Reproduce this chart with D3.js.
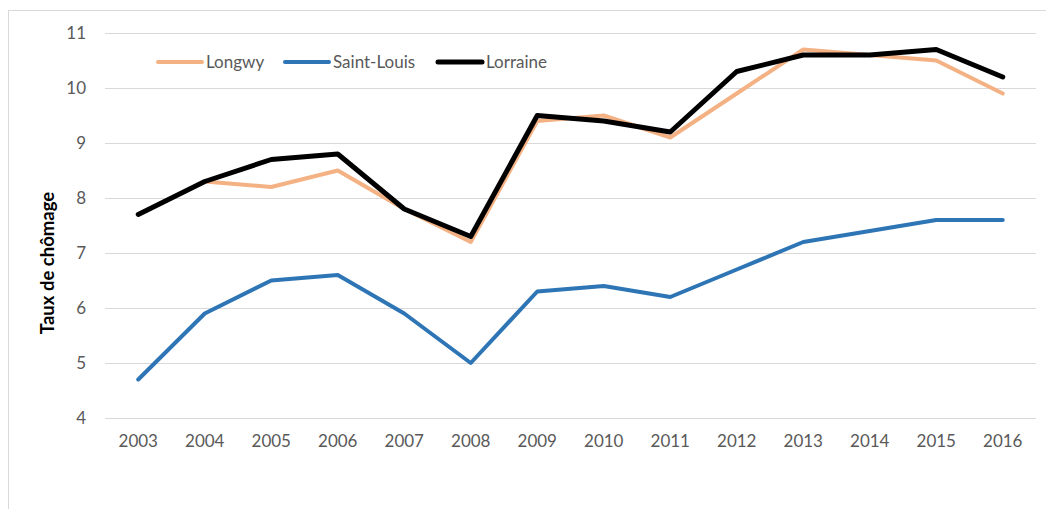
<!DOCTYPE html>
<html>
<head>
	<meta charset="utf-8">
	<title>Taux de chômage</title>
	<script src="https://d3js.org/d3.v7.min.js"></script>
	<style>
		body { margin: 0; background: #fff; }
		svg text { font-family: Lato, "Open Sans", sans-serif; }
	</style>
</head>
<body>
	<div id="chart"></div>
	<script type="text/javascript">
		// data .........................................
		var years = ['2003', '2004', '2005', '2006', '2007', '2008', '2009', '2010', '2011', '2012', '2013', '2014', '2015', '2016'];
		var longwy = [7.7, 8.3, 8.2, 8.5, 7.8, 7.2, 9.4, 9.5, 9.1, 9.9, 10.7, 10.6, 10.5, 9.9];
		var saintLouis = [4.7, 5.9, 6.5, 6.6, 5.9, 5.0, 6.3, 6.4, 6.2, 6.7, 7.2, 7.4, 7.6, 7.6];
		var lorraine = [7.7, 8.3, 8.7, 8.8, 7.8, 7.3, 9.5, 9.4, 9.2, 10.3, 10.6, 10.6, 10.7, 10.2];
		var yTicks = [4, 5, 6, 7, 8, 9, 10, 11];
		var seriesNames = ['Longwy', 'Saint-Louis', 'Lorraine'];

		var series = [
			{ name: seriesNames[0], values: longwy, color: '#F4B183', width: 4 },
			{ name: seriesNames[1], values: saintLouis, color: '#2E75B6', width: 4 },
			{ name: seriesNames[2], values: lorraine, color: '#000000', width: 5 }
		];

		var W = 1046, H = 509;
		var margin = { top: 33, left: 105 };
		var width = 1036 - margin.left;
		var height = 418 - margin.top;

		var svg = d3.select('#chart').append('svg')
			.attr('width', W)
			.attr('height', H);

		// chart border
		svg.append('rect')
			.attr('x', 8.5).attr('y', 10.5)
			.attr('width', W + 10).attr('height', H + 10)
			.attr('fill', 'none')
			.attr('stroke', '#d9d9d9');

		var g = svg.append('g')
			.attr('transform', 'translate(' + margin.left + ',' + margin.top + ')');

		// scales ............................
		var xScale = d3.scaleBand()
			.domain(years)
			.range([0, width]);

		var yScale = d3.scaleLinear()
			.domain([4, 11])
			.range([height, 0]);

		// grid
		g.append('g')
			.selectAll('line')
			.data(yTicks)
			.enter()
			.append('line')
			.attr('x1', 0).attr('x2', width)
			.attr('y1', d => Math.round(yScale(d)) + 0.5)
			.attr('y2', d => Math.round(yScale(d)) + 0.5)
			.style('stroke', '#d9d9d9')
			.style('stroke-width', 1);

		// y axis
		var yAxis = d3.axisLeft(yScale)
			.tickValues(yTicks)
			.tickFormat(d3.format('d'))
			.tickSize(0)
			.tickPadding(19);
		var yGuide = g.append('g').call(yAxis);
		yGuide.select('.domain').remove();
		yGuide.selectAll('text')
			.style('font-size', '17px')
			.style('fill', '#595959');

		// x axis
		var xAxis = d3.axisBottom(xScale)
			.tickSize(0)
			.tickPadding(17);
		var xGuide = g.append('g')
			.attr('transform', 'translate(0,' + height + ')')
			.call(xAxis);
		xGuide.select('.domain').remove();
		xGuide.selectAll('text')
			.style('font-size', '17px')
			.style('fill', '#595959');

		// axis title
		svg.append('text')
			.attr('transform', 'translate(54,263) rotate(-90)')
			.attr('text-anchor', 'middle')
			.style('font-size', '18.5px')
			.style('font-weight', 'bold')
			.style('fill', '#000')
			.text('Taux de chômage');

		// lines
		var line = d3.line()
			.x((d, i) => xScale(years[i]) + xScale.bandwidth() / 2)
			.y(d => yScale(d));

		g.selectAll('.series')
			.data(series)
			.enter()
			.append('path')
			.attr('class', 'series')
			.attr('d', d => line(d.values))
			.style('fill', 'none')
			.style('stroke', d => d.color)
			.style('stroke-width', d => d.width)
			.style('stroke-linejoin', 'round')
			.style('stroke-linecap', 'round');

		// legend
		var legendX = [158, 285, 438];
		var legend = svg.append('g')
			.selectAll('g')
			.data(series)
			.enter()
			.append('g')
			.attr('transform', (d, i) => 'translate(' + legendX[i] + ',62)');
		legend.append('line')
			.attr('x1', 0).attr('x2', 44)
			.attr('y1', 0).attr('y2', 0)
			.style('stroke', d => d.color)
			.style('stroke-width', d => d.width)
			.style('stroke-linecap', 'round');
		legend.append('text')
			.attr('x', 48)
			.attr('y', 6)
			.style('font-size', '17px')
			.style('fill', '#595959')
			.text(d => d.name);
	</script>
</body>
</html>
